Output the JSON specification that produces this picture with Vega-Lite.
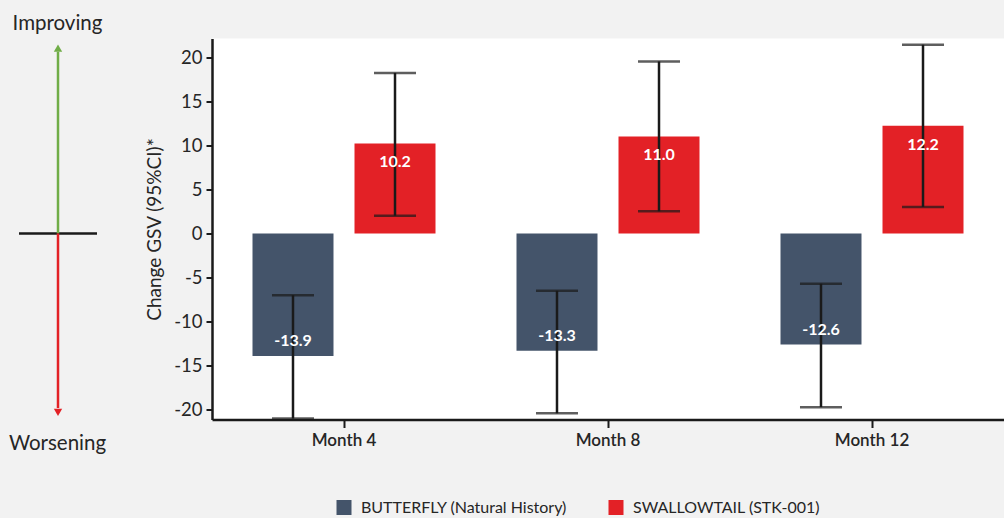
{
  "$schema": "https://vega.github.io/schema/vega-lite/v6.json",
  "background": "#f2f2f2",
  "padding": {"left": 0, "right": 0, "top": 13.5, "bottom": 6},
  "config": {
    "font": "Lato",
    "view": {"stroke": null},
    "axis": {"labelColor": "#262626", "titleColor": "#262626"},
    "locale": {"number": {"decimal": ".", "thousands": ",", "grouping": [3], "currency": ["", ""], "minus": "-"}}
  },
  "bounds": "flush",
  "spacing": 62,
  "resolve": {"scale": {"color": "independent", "shape": "independent"}, "legend": {"color": "independent"}},
  "hconcat": [
    {
      "width": 150,
      "height": 381,
      "layer": [
        {
          "data": {"values": [{"x": 19, "x2": 97, "y": 0}]},
          "mark": {"type": "rule", "color": "#1a1a1a", "strokeWidth": 2.5},
          "encoding": {
            "x": {"field": "x", "type": "quantitative", "scale": {"domain": [0, 150]}, "axis": null},
            "x2": {"field": "x2"},
            "y": {"field": "y", "type": "quantitative", "scale": {"domain": [-21.1, 22.1]}, "axis": null}
          }
        },
        {
          "data": {"values": [{"x": 58, "from": 0, "to": 20.6}]},
          "mark": {"type": "rule", "strokeWidth": 2.5, "color": "#70ad47"},
          "encoding": {
            "x": {"field": "x", "type": "quantitative", "scale": {"domain": [0, 150]}, "axis": null},
            "y": {"field": "from", "type": "quantitative", "scale": {"domain": [-21.1, 22.1]}, "axis": null},
            "y2": {"field": "to"}
          }
        },
        {
          "data": {"values": [{"x": 58, "from": 0, "to": -19.8}]},
          "mark": {"type": "rule", "strokeWidth": 2.5, "color": "#e32126"},
          "encoding": {
            "x": {"field": "x", "type": "quantitative", "scale": {"domain": [0, 150]}, "axis": null},
            "y": {"field": "from", "type": "quantitative", "scale": {"domain": [-21.1, 22.1]}, "axis": null},
            "y2": {"field": "to"}
          }
        },
        {
          "data": {"values": [{"x": 58, "tip": 21.0}]},
          "mark": {"type": "point", "filled": true, "opacity": 1, "size": 70, "shape": "triangle-up", "color": "#70ad47"},
          "encoding": {
            "x": {"field": "x", "type": "quantitative", "scale": {"domain": [0, 150]}, "axis": null},
            "y": {"field": "tip", "type": "quantitative", "scale": {"domain": [-21.1, 22.1]}, "axis": null}
          }
        },
        {
          "data": {"values": [{"x": 58, "tip": -20.3}]},
          "mark": {"type": "point", "filled": true, "opacity": 1, "size": 70, "shape": "triangle-down", "color": "#e32126"},
          "encoding": {
            "x": {"field": "x", "type": "quantitative", "scale": {"domain": [0, 150]}, "axis": null},
            "y": {"field": "tip", "type": "quantitative", "scale": {"domain": [-21.1, 22.1]}, "axis": null}
          }
        },
        {
          "data": {"values": [
            {"label": "Improving", "x": 57.5, "y": 23.7},
            {"label": "Worsening", "x": 57.5, "y": -23.9}
          ]},
          "mark": {"type": "text", "fontSize": 20.5, "color": "#262626", "baseline": "middle", "align": "center"},
          "encoding": {
            "x": {"field": "x", "type": "quantitative", "scale": {"domain": [0, 150]}, "axis": null},
            "y": {"field": "y", "type": "quantitative", "scale": {"domain": [-21.1, 22.1]}, "axis": null},
            "text": {"field": "label"}
          }
        }
      ]
    },
    {
      "width": 792,
      "height": 381,
      "view": {"fill": "white"},
      "data": {"values": [
        {"month": "Month 4", "group": "BUTTERFLY (Natural History)", "value": -13.9, "lower": -21.0, "upper": -7.0},
        {"month": "Month 4", "group": "SWALLOWTAIL (STK-001)", "value": 10.2, "lower": 2.0, "upper": 18.2},
        {"month": "Month 8", "group": "BUTTERFLY (Natural History)", "value": -13.3, "lower": -20.4, "upper": -6.5},
        {"month": "Month 8", "group": "SWALLOWTAIL (STK-001)", "value": 11.0, "lower": 2.5, "upper": 19.5},
        {"month": "Month 12", "group": "BUTTERFLY (Natural History)", "value": -12.6, "lower": -19.7, "upper": -5.7},
        {"month": "Month 12", "group": "SWALLOWTAIL (STK-001)", "value": 12.2, "lower": 3.0, "upper": 21.4}
      ]},
      "encoding": {
        "x": {
          "field": "month", "type": "nominal", "sort": ["Month 4", "Month 8", "Month 12"],
          "scale": {"paddingInner": 0, "paddingOuter": 0},
          "axis": {
            "title": null, "labelAngle": 0, "labelFontSize": 17, "labelFontWeight": 600,
            "labelPadding": 5, "domainColor": "#1a1a1a", "domainWidth": 2.5,
            "tickColor": "#1a1a1a", "tickWidth": 2, "tickSize": 8, "grid": false
          }
        },
        "xOffset": {
          "field": "group", "type": "nominal",
          "sort": ["BUTTERFLY (Natural History)", "SWALLOWTAIL (STK-001)"],
          "scale": {"paddingInner": 0.206, "paddingOuter": 0.397}
        }
      },
      "layer": [
        {
          "mark": {"type": "bar"},
          "encoding": {
            "y": {
              "field": "value", "type": "quantitative",
              "scale": {"domain": [-21.1, 22.1], "nice": false, "zero": false},
              "axis": {
                "title": "Change GSV (95%CI)*", "titleFontSize": 19, "titleFontWeight": "normal",
                "titlePadding": 9, "values": [-20, -15, -10, -5, 0, 5, 10, 15, 20],
                "labelFontSize": 18.5, "labelPadding": 4, "grid": false,
                "domainColor": "#1a1a1a", "domainWidth": 2.5,
                "tickColor": "#1a1a1a", "tickWidth": 2, "tickSize": 6
              }
            },
            "color": {
              "field": "group", "type": "nominal",
              "scale": {
                "domain": ["BUTTERFLY (Natural History)", "SWALLOWTAIL (STK-001)"],
                "range": ["#44546a", "#e32126"]
              },
              "legend": {
                "title": null, "orient": "none", "direction": "horizontal",
                "legendX": 124, "legendY": 461, "padding": 0,
                "symbolType": "square", "symbolSize": 225, "symbolStrokeWidth": 0,
                "labelFontSize": 16, "labelColor": "#262626", "labelOffset": 9,
                "columnPadding": 40, "labelLimit": 400
              }
            }
          }
        },
        {
          "mark": {"type": "rule", "color": "#1a1a1a", "strokeWidth": 2.5},
          "encoding": {
            "y": {"field": "lower", "type": "quantitative"},
            "y2": {"field": "upper"}
          }
        },
        {
          "mark": {"type": "tick", "color": "#1a1a1a", "size": 42, "thickness": 2.5, "orient": "horizontal"},
          "encoding": {"y": {"field": "lower", "type": "quantitative"}}
        },
        {
          "mark": {"type": "tick", "color": "#1a1a1a", "size": 42, "thickness": 2.5, "orient": "horizontal"},
          "encoding": {"y": {"field": "upper", "type": "quantitative"}}
        },
        {
          "transform": [{"filter": "datum.value > 0"}],
          "mark": {"type": "text", "color": "white", "fontSize": 16, "fontWeight": "bold", "baseline": "middle", "dy": 19},
          "encoding": {
            "y": {"field": "value", "type": "quantitative"},
            "text": {"field": "value", "type": "quantitative", "format": ".1f"}
          }
        },
        {
          "transform": [{"filter": "datum.value < 0"}],
          "mark": {"type": "text", "color": "white", "fontSize": 16, "fontWeight": "bold", "baseline": "middle", "dy": -15},
          "encoding": {
            "y": {"field": "value", "type": "quantitative"},
            "text": {"field": "value", "type": "quantitative", "format": ".1f"}
          }
        },
        {
          "mark": {"type": "rule", "color": "#1a1a1a", "strokeWidth": 2.5},
          "encoding": {"y": {"datum": 0, "type": "quantitative"}}
        }
      ]
    }
  ]
}
